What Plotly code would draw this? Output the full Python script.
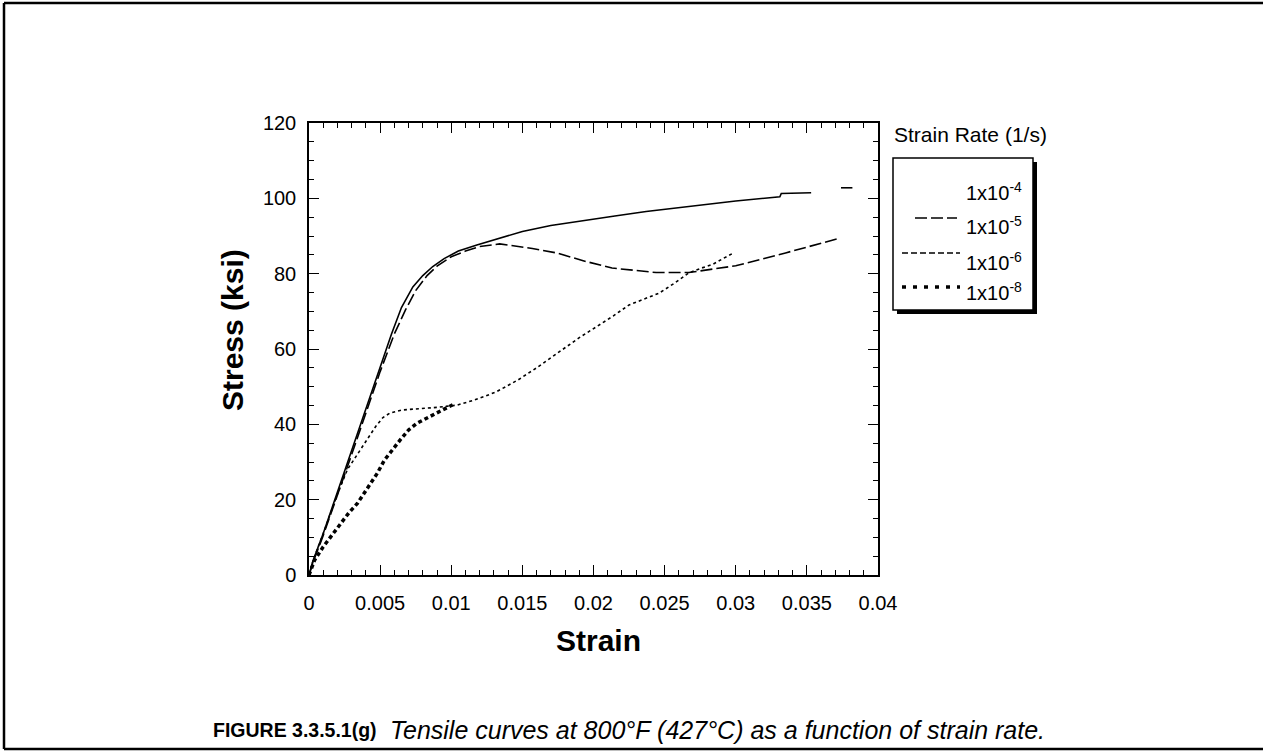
import plotly.graph_objects as go

# ---------------- data ----------------
strain_1e4 = [0, 0.0003, 0.001, 0.002, 0.003, 0.004, 0.005, 0.0058, 0.0065, 0.0073, 0.0080,
              0.0087, 0.0095, 0.0105, 0.0118, 0.013, 0.015, 0.017, 0.0197, 0.0215, 0.0237,
              0.026, 0.0284, 0.030, 0.0331, 0.0332, 0.0353, None, 0.0374, 0.0382]
stress_1e4 = [0, 4, 11, 22, 33, 44.5, 55.5, 64, 71, 76.5, 79.5,
              81.9, 84, 86, 87.6, 89, 91.2, 92.8, 94.4, 95.3, 96.5,
              97.5, 98.7, 99.3, 100.4, 101.3, 101.5, None, 102.8, 102.8]

strain_1e5 = [0, 0.0003, 0.001, 0.002, 0.003, 0.004, 0.005, 0.006, 0.0068, 0.0075, 0.0083,
              0.009, 0.010, 0.011, 0.012, 0.0134, 0.0157, 0.0174, 0.0195, 0.0213, 0.0244,
              0.0267, 0.0285, 0.030, 0.0335, 0.0371]
stress_1e5 = [0, 3.5, 10.5, 21, 32, 43, 54, 64, 70.5, 75.5, 79.5,
              82, 84.5, 86, 87.2, 87.9, 86.7, 85.5, 83.2, 81.5, 80.3,
              80.3, 81.2, 82.1, 85.5, 89.2]

strain_1e6 = [0, 0.0003, 0.001, 0.002, 0.0027, 0.0033, 0.0037, 0.0042, 0.0047, 0.0052, 0.0057,
              0.0065, 0.0078, 0.009, 0.0104, 0.0115, 0.0124, 0.0132, 0.0147, 0.016, 0.0175,
              0.0190, 0.0202, 0.0214, 0.0225, 0.0236, 0.0246, 0.0257, 0.0267, 0.0276, 0.0284,
              0.0291, 0.0298]
stress_1e6 = [0, 4, 11, 21.5, 28, 31.5, 33.5, 36.5, 39.5, 41.8, 43,
              43.8, 44.1, 44.5, 45.1, 46.3, 47.5, 48.7, 51.8, 55, 59,
              63, 65.9, 68.8, 71.7, 73.3, 74.8, 77.5, 80.2, 81.5, 82.5,
              84, 85.4]

strain_1e8 = [0, 0.0004, 0.001, 0.0016, 0.0022, 0.0028, 0.0034, 0.0042, 0.0048, 0.0053,
              0.0059, 0.0064, 0.007, 0.0076, 0.0082, 0.0087, 0.0093, 0.0099, 0.0101]
stress_1e8 = [0, 4, 7.5, 10.5, 13.7, 16.5, 19, 23.6, 27, 30.5,
              33.5, 35.8, 38.5, 40.3, 41.5, 42.5, 43.8, 44.9, 45.2]

x_ticks = [0, 0.005, 0.01, 0.015, 0.02, 0.025, 0.03, 0.035, 0.04]
x_tick_labels = ["0", "0.005", "0.01", "0.015", "0.02", "0.025", "0.03", "0.035", "0.04"]
y_ticks = [0, 20, 40, 60, 80, 100, 120]

legend_title = "Strain Rate (1/s)"
legend_labels = ["1x10<sup>-4</sup>", "1x10<sup>-5</sup>", "1x10<sup>-6</sup>", "1x10<sup>-8</sup>"]
caption_bold = "<b>FIGURE 3.3.5.1(g)</b>"
caption_italic = "<i>Tensile curves at 800°F (427°C) as a function of strain rate.</i>"

# ---------------- layout geometry ----------------
W, H = 1265, 751
L, R, T, B = 309, 878, 123, 575   # plot area in screen pixels
FONT = "Liberation Sans, Arial, sans-serif"


def px(x):
    return (x - L) / (R - L)


def py(y):
    return (B - y) / (B - T)


fig = go.Figure()
fig.add_trace(go.Scatter(x=strain_1e4, y=stress_1e4, mode="lines",
                         line=dict(color="black", width=1.6), showlegend=False))
fig.add_trace(go.Scatter(x=strain_1e5, y=stress_1e5, mode="lines",
                         line=dict(color="black", width=1.6, dash="12px,4px"), showlegend=False))
fig.add_trace(go.Scatter(x=strain_1e6, y=stress_1e6, mode="lines",
                         line=dict(color="black", width=1.6, dash="3px,3px"), showlegend=False))
fig.add_trace(go.Scatter(x=strain_1e8, y=stress_1e8, mode="lines",
                         line=dict(color="black", width=3.5, dash="4px,3px"), showlegend=False))

axis_common = dict(showline=True, linecolor="black", linewidth=1.5, mirror="ticks",
                   ticks="inside", ticklen=10, tickwidth=1.2, tickcolor="black",
                   showgrid=False, zeroline=False,
                   tickfont=dict(family=FONT, size=20, color="black"))

fig.update_xaxes(range=[0, 0.04], tickvals=x_ticks, ticktext=x_tick_labels, ticklabelstandoff=9,
                 minor=dict(ticks="inside", dtick=0.001, ticklen=5, tickwidth=1, tickcolor="black"),
                 **axis_common)
fig.update_yaxes(range=[0, 120], tickvals=y_ticks, ticklabelstandoff=7,
                 minor=dict(ticks="inside", dtick=5, ticklen=5, tickwidth=1, tickcolor="black"),
                 **axis_common)

shapes = []
# outer frame (left, top, bottom)
for (x0, y0, x1, y1) in [(4, 3, 4, 749), (4, 3, 1263, 3), (4, 749, 1263, 749)]:
    shapes.append(dict(type="line", xref="paper", yref="paper",
                       x0=px(x0), y0=py(y0), x1=px(x1), y1=py(y1),
                       line=dict(color="black", width=2.5)))
# legend shadow + box
shapes.append(dict(type="rect", xref="paper", yref="paper",
                   x0=px(897), y0=py(314), x1=px(1037), y1=py(162),
                   fillcolor="black", line=dict(width=0)))
shapes.append(dict(type="rect", xref="paper", yref="paper",
                   x0=px(893), y0=py(310), x1=px(1033), y1=py(158),
                   fillcolor="white", line=dict(color="black", width=1.5)))
# legend samples
shapes.append(dict(type="line", xref="paper", yref="paper",
                   x0=px(915), x1=px(957), y0=py(218), y1=py(218),
                   line=dict(color="black", width=1.6, dash="12px,4px")))
shapes.append(dict(type="line", xref="paper", yref="paper",
                   x0=px(902), x1=px(960), y0=py(253), y1=py(253),
                   line=dict(color="black", width=1.6, dash="6px,3px")))
shapes.append(dict(type="line", xref="paper", yref="paper",
                   x0=px(902), x1=px(960), y0=py(287), y1=py(287),
                   line=dict(color="black", width=3.5, dash="4px,7px")))

annotations = []
annotations.append(dict(text=legend_title, xref="paper", yref="paper", x=px(892), y=py(134),
                        xanchor="left", yanchor="middle", showarrow=False,
                        font=dict(family=FONT, size=21, color="black")))
for lab, yy in zip(legend_labels, [191, 225, 261, 291]):
    annotations.append(dict(text=lab, xref="paper", yref="paper", x=px(964), y=py(yy),
                            xanchor="left", yanchor="middle", showarrow=False,
                            font=dict(family=FONT, size=20, color="black")))
annotations.append(dict(text="<b>Strain</b>", xref="paper", yref="paper", x=px(598), y=py(640),
                        xanchor="center", yanchor="middle", showarrow=False,
                        font=dict(family=FONT, size=30, color="black")))
annotations.append(dict(text="<b>Stress (ksi)</b>", xref="paper", yref="paper", x=px(232), y=py(330),
                        xanchor="center", yanchor="middle", showarrow=False, textangle=-90,
                        font=dict(family=FONT, size=30, color="black")))
annotations.append(dict(text=caption_bold, xref="paper", yref="paper", x=px(379), y=py(730),
                        xanchor="right", yanchor="middle", showarrow=False,
                        font=dict(family=FONT, size=19.5, color="black")))
annotations.append(dict(text=caption_italic, xref="paper", yref="paper", x=px(388), y=py(730),
                        xanchor="left", yanchor="middle", showarrow=False,
                        font=dict(family=FONT, size=25, color="black")))

fig.update_layout(width=W, height=H,
                  margin=dict(l=L, r=W - R, t=T, b=H - B, pad=0),
                  paper_bgcolor="white", plot_bgcolor="white",
                  shapes=shapes, annotations=annotations, showlegend=False,
                  font=dict(family=FONT, color="black"))

fig.write_html("out.html", config={"displayModeBar": False},
               post_script="document.body.style.margin='0';document.body.style.overflow='hidden';")
